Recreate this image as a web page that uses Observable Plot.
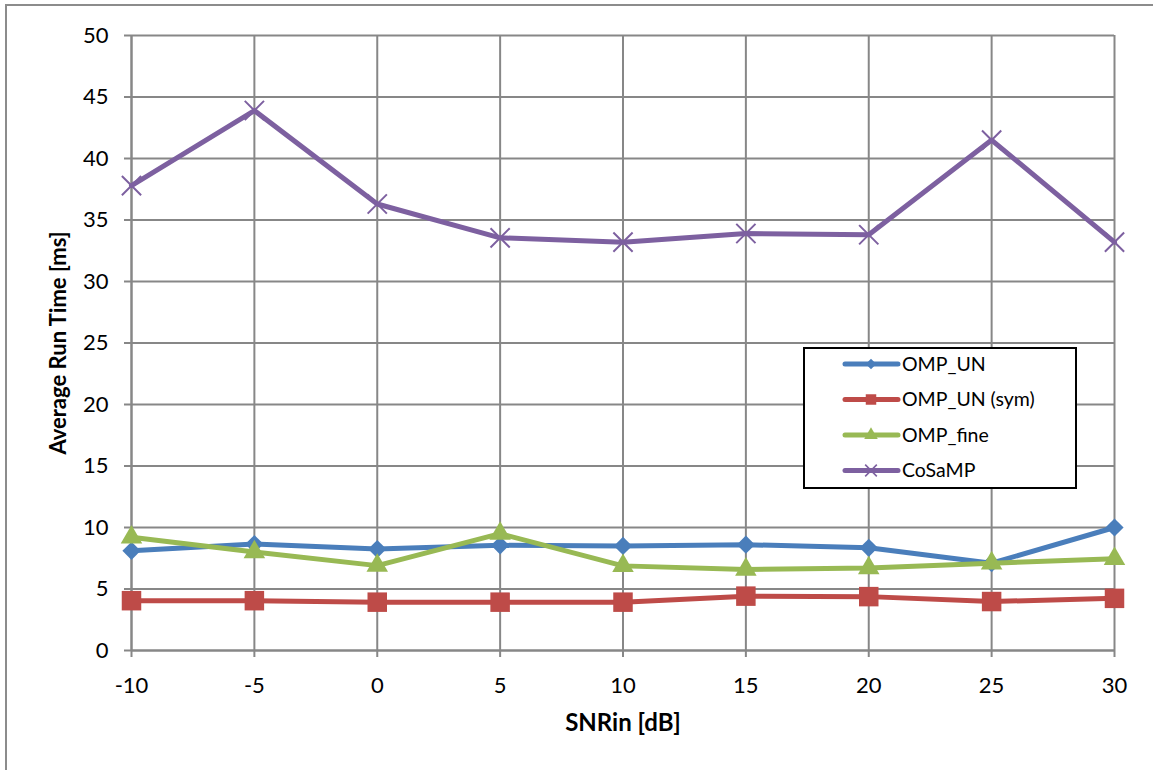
<!DOCTYPE html>
<html><head><meta charset="utf-8">
<script src="https://cdn.jsdelivr.net/npm/d3@7"></script>
<script src="https://cdn.jsdelivr.net/npm/@observablehq/plot@0.6"></script>
<style>
body{margin:0;background:#fff;font-family:Lato,sans-serif;}
#wrap{position:relative;width:1153px;height:770px;overflow:hidden;background:#fff;}
#border{position:absolute;left:5px;top:4px;width:1300px;height:900px;border:2px solid #8c8c8c;box-sizing:border-box;}
#chart{position:absolute;left:0;top:0;}
#legend{position:absolute;left:803px;top:347px;}
</style></head><body><div id="wrap"><div id="border"></div><div id="chart"></div><div id="legend"></div></div>
<script>
const snr = [-10, -5, 0, 5, 10, 15, 20, 25, 30];
const ompUN = [8.1, 8.65, 8.25, 8.55, 8.5, 8.6, 8.35, 7.1, 10.0];
const ompUNsym = [4.05, 4.05, 3.93, 3.93, 3.93, 4.42, 4.38, 3.98, 4.24];
const ompFine = [9.2, 8.0, 6.9, 9.5, 6.88, 6.58, 6.7, 7.1, 7.45];
const cosamp = [37.8, 43.9, 36.3, 33.55, 33.2, 33.9, 33.8, 41.5, 33.2];
const seriesNames = ["OMP_UN", "OMP_UN (sym)", "OMP_fine", "CoSaMP"];
const seriesValues = [ompUN, ompUNsym, ompFine, cosamp];
const colors = ["#4A7EBB", "#BE4B48", "#98B954", "#7D60A0"];
const symbols = ["diamond2", "square", "triangle", "times"];
const radii = [8.2, 11, 8, 8.8];
const yTicks = [0, 5, 10, 15, 20, 25, 30, 35, 40, 45, 50];
const xTitle = "SNRin [dB]";
const yTitle = "Average Run Time [ms]";

const rows = [];
seriesNames.forEach((s, i) => snr.forEach((x, j) => rows.push({series: s, x, y: seriesValues[i][j], i})));

const gridColor = "#878787";
const marks = [
  Plot.gridX(snr, {stroke: gridColor, strokeOpacity: 1, strokeWidth: 2}),
  Plot.gridY(yTicks, {stroke: gridColor, strokeOpacity: 1, strokeWidth: 2}),
  Plot.ruleX([-10], {stroke: gridColor, strokeWidth: 2}),
  Plot.ruleY([0], {stroke: gridColor, strokeWidth: 2}),
  Plot.axisX(snr, {tickSize: 7, tickPadding: 20, fontSize: 22, stroke: gridColor, strokeWidth: 2, fill: "black", label: null, tickFormat: d => String(d)}),
  Plot.axisY(yTicks, {tickSize: 7, tickPadding: 16, fontSize: 22, stroke: gridColor, strokeWidth: 2, fill: "black", label: null, tickFormat: d => String(d)}),
  Plot.text([yTitle], {frameAnchor: "left", rotate: -90, dx: -73, fontWeight: "bold", fontSize: 22, fill: "black", textAnchor: "middle", lineAnchor: "middle"}),
  Plot.text([xTitle], {frameAnchor: "bottom", dy: 73, fontWeight: "bold", fontSize: 24, fill: "black", textAnchor: "middle", lineAnchor: "middle"})
];
seriesNames.forEach((s, i) => {
  const d = rows.filter(r => r.series === s);
  marks.push(Plot.line(d, {x: "x", y: "y", stroke: colors[i], strokeWidth: 5, strokeLinejoin: "round"}));
  if (symbols[i] === "times") {
    marks.push(Plot.dot(d, {x: "x", y: "y", symbol: "times", r: radii[i], stroke: colors[i], strokeWidth: 2}));
  } else {
    marks.push(Plot.dot(d, {x: "x", y: "y", symbol: symbols[i], r: radii[i], fill: colors[i], stroke: "none"}));
  }
});

const chart = Plot.plot({
  width: 1153, height: 770,
  marginLeft: 131, marginRight: 39, marginTop: 35, marginBottom: 120,
  x: {type: "linear", domain: [-10, 30]},
  y: {type: "linear", domain: [0, 50]},
  style: {fontFamily: "Lato, sans-serif", fontSize: "22px", background: "transparent", color: "black"},
  marks
});
document.getElementById("chart").append(chart);

// Legend
const lw = 274, lh = 142;
const svg = d3.select("#legend").append("svg").attr("width", lw).attr("height", lh);
svg.append("rect").attr("x", 1).attr("y", 1).attr("width", lw - 2).attr("height", lh - 2).attr("fill", "white").attr("stroke", "black").attr("stroke-width", 2);
const symMap = {diamond2: d3.symbolDiamond2, square: d3.symbolSquare, triangle: d3.symbolTriangle, times: d3.symbolTimes};
seriesNames.forEach((s, i) => {
  const y = 17 + i * 35.5;
  const g = svg.append("g").attr("transform", `translate(0,${y})`);
  g.append("line").attr("x1", 42).attr("x2", 95).attr("y1", 0).attr("y2", 0).attr("stroke", colors[i]).attr("stroke-width", 5).attr("stroke-linecap", "round");
  const sz = [70, 110, 80, 90][i];
  const p = d3.symbol(symMap[symbols[i]], sz)();
  const path = g.append("path").attr("d", p).attr("transform", "translate(68,0)");
  if (symbols[i] === "times") path.attr("fill", "none").attr("stroke", colors[i]).attr("stroke-width", 1.6);
  else path.attr("fill", colors[i]);
  g.append("text").attr("x", 99).attr("y", 0).attr("dy", "0.35em").attr("font-size", 19.5).attr("font-family", "Lato, sans-serif").attr("fill", "black").text(s);
});
</script></body></html>
